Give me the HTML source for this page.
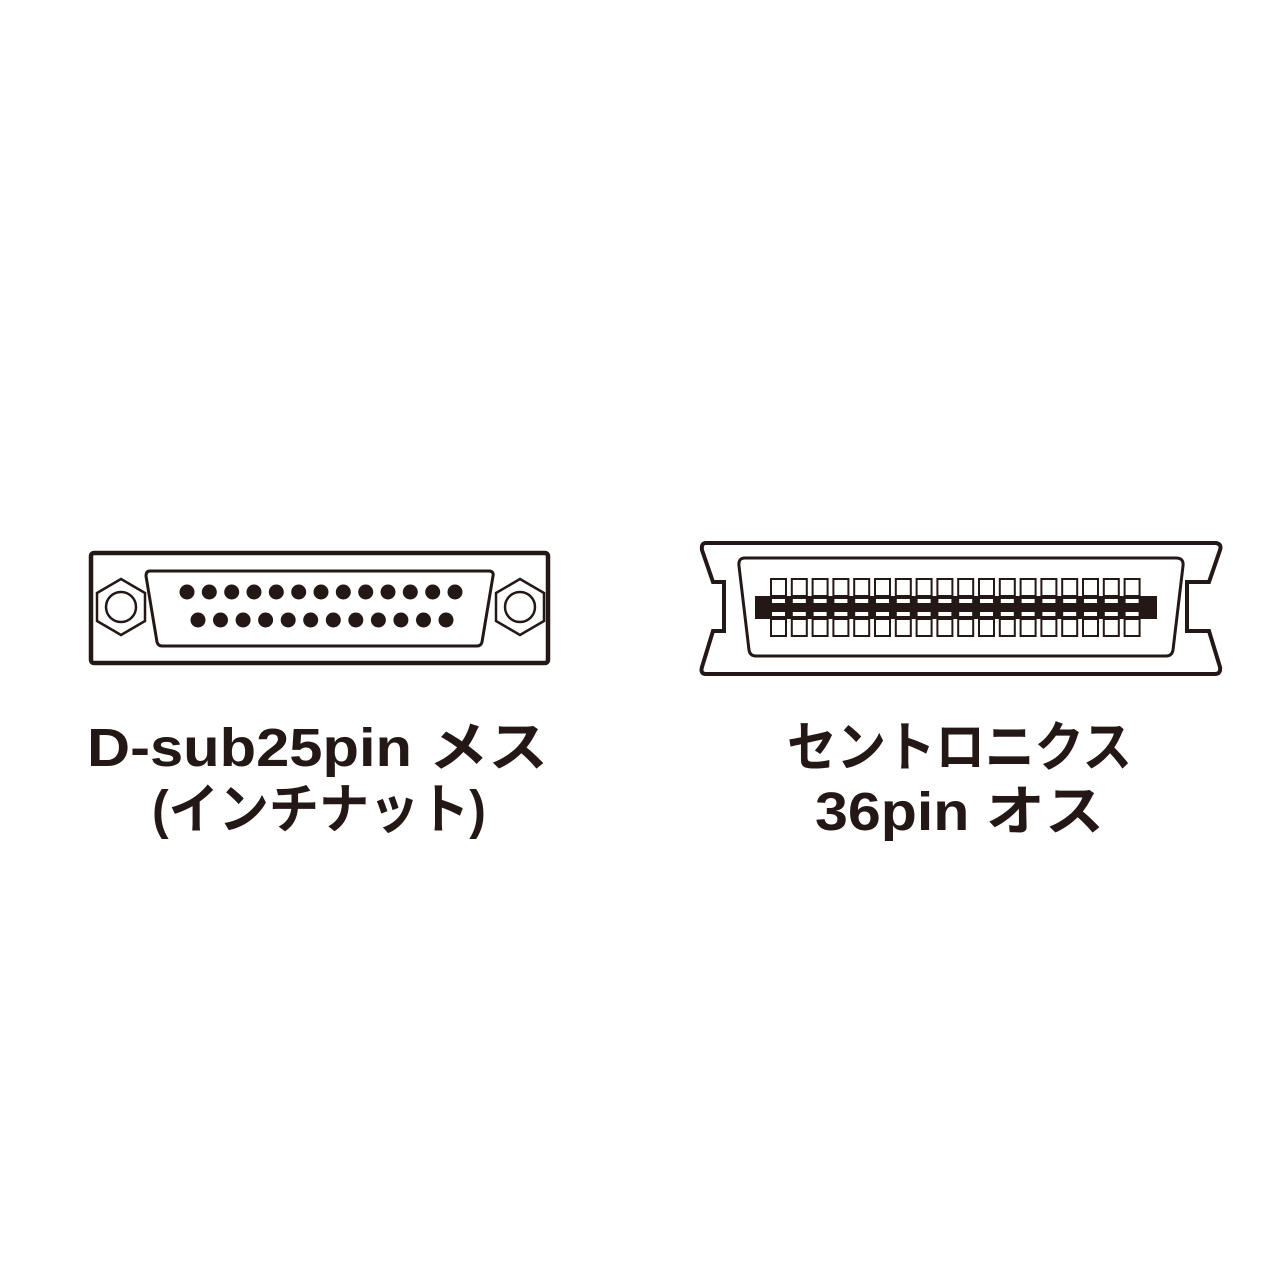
<!DOCTYPE html>
<html><head><meta charset="utf-8"><style>html,body{margin:0;padding:0;background:#fff}svg{display:block}</style></head>
<body>
<svg width="1280" height="1280" viewBox="0 0 1280 1280" xmlns="http://www.w3.org/2000/svg">
<g fill="none" stroke="#231815">
<rect x="91" y="553" width="457" height="110" rx="3" stroke-width="4.5"/>
<path d="M150,571 L490,571 Q494,572 493,576 L482,642 Q481,646 477,646 L162,646 Q158,646 157,642 L146,576 Q146,571 150,571Z" stroke-width="3"/>
<polygon points="121,579 145,593 145,621 121,635 97,621 97,593" stroke-width="2.5"/>
<circle cx="121" cy="607" r="15" stroke-width="2.5"/>
<polygon points="520,579 544,593 544,621 520,635 496,621 496,593" stroke-width="2.5"/>
<circle cx="520" cy="607" r="15" stroke-width="2.5"/>
<path d="M706,543 L1216,543 Q1222,544 1220,550 L1209,582 L1187,582 L1187,631 L1209,631 L1220,667 Q1221,674 1215,674 L706,674 Q700,674 702,667 L713,631 L724,631 L724,582 L713,582 L702,550 Q701,543 706,543Z" stroke-width="4"/>
<path d="M745,558 L1176,558 Q1184,558 1183,566 L1173,650 Q1172,656 1166,656 L756,656 Q750,656 749,650 L739,566 Q738,558 745,558Z" stroke-width="3"/>
</g>
<g fill="#231815">
<circle cx="187" cy="592" r="7.5"/><circle cx="209.3" cy="592" r="7.5"/><circle cx="231.7" cy="592" r="7.5"/><circle cx="254" cy="592" r="7.5"/><circle cx="276.3" cy="592" r="7.5"/><circle cx="298.7" cy="592" r="7.5"/><circle cx="321" cy="592" r="7.5"/><circle cx="343.3" cy="592" r="7.5"/><circle cx="365.7" cy="592" r="7.5"/><circle cx="388" cy="592" r="7.5"/><circle cx="410.3" cy="592" r="7.5"/><circle cx="432.7" cy="592" r="7.5"/><circle cx="455" cy="592" r="7.5"/>
<circle cx="198" cy="620" r="7.5"/><circle cx="220.5" cy="620" r="7.5"/><circle cx="243.1" cy="620" r="7.5"/><circle cx="265.6" cy="620" r="7.5"/><circle cx="288.2" cy="620" r="7.5"/><circle cx="310.7" cy="620" r="7.5"/><circle cx="333.3" cy="620" r="7.5"/><circle cx="355.8" cy="620" r="7.5"/><circle cx="378.4" cy="620" r="7.5"/><circle cx="400.9" cy="620" r="7.5"/><circle cx="423.5" cy="620" r="7.5"/><circle cx="446" cy="620" r="7.5"/>
<rect x="755" y="596" width="402" height="23"/>
</g>
<g id="cols"></g>
<g font-family="'Liberation Sans','Noto Sans CJK JP',sans-serif" fill="#231815" font-size="54" font-weight="bold">
<text x="87" y="766" textLength="461" lengthAdjust="spacingAndGlyphs">D-sub25pin メス</text>
<text x="152" y="828" textLength="334" lengthAdjust="spacingAndGlyphs">(インチナット)</text>
<text x="787" y="766" textLength="345" lengthAdjust="spacingAndGlyphs">セントロニクス</text>
<text x="815" y="830" textLength="289" lengthAdjust="spacingAndGlyphs">36pin オス</text>
</g>
</svg>
<script>
(function(){var g=document.getElementById('cols'),h='';
for(var i=0;i<18;i++){var x=771+20.8*i;
h+='<rect x="'+x+'" y="579" width="15" height="17" fill="none" stroke="#231815" stroke-width="2"/>';
h+='<rect x="'+x+'" y="619" width="15" height="17" fill="none" stroke="#231815" stroke-width="2"/>';
h+='<rect x="'+(x+1)+'" y="599" width="13" height="4" fill="#fff"/>';
h+='<rect x="'+(x+1)+'" y="612" width="13" height="4" fill="#fff"/>';}
g.innerHTML=h;})();
</script>
</body></html>
